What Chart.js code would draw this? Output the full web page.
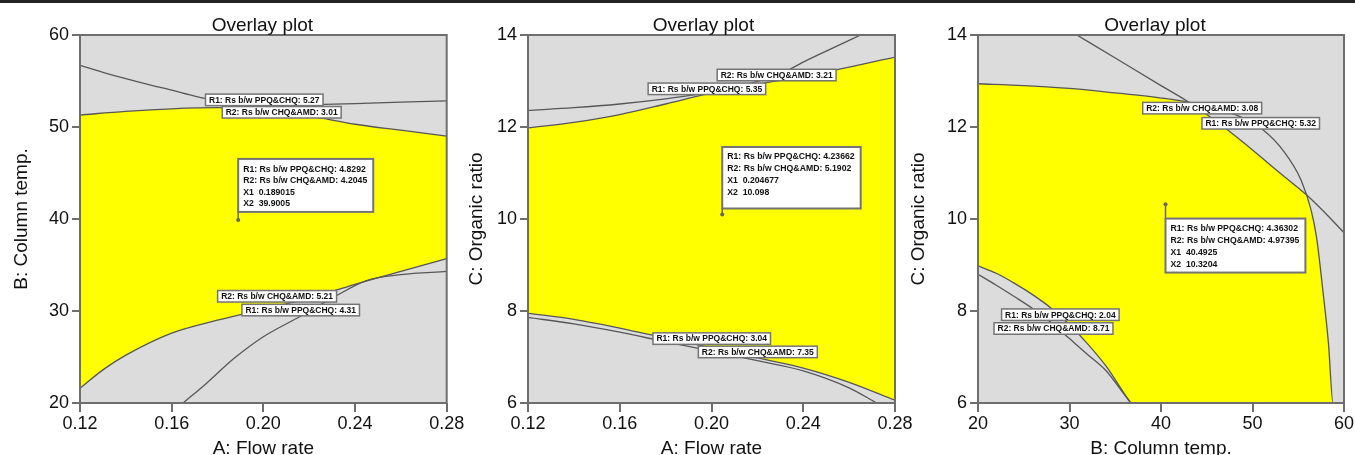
<!DOCTYPE html>
<html>
<head>
<meta charset="utf-8">
<title>Overlay plots</title>
<script src="https://cdn.jsdelivr.net/npm/chart.js@4.4.1/dist/chart.umd.min.js"></script>
<style>
  html, body { margin: 0; padding: 0; background: #fff; overflow: hidden; }
  #bar { position: absolute; left: 0; top: 0; width: 1355px; height: 3px; background: #232323; }
  .panel { position: absolute; top: 0; }
</style>
</head>
<body>
<div id="bar"></div>
<div class="panel" style="left:0px"><canvas id="plot1" width="470" height="470"></canvas></div>
<div class="panel" style="left:455px"><canvas id="plot2" width="462" height="470"></canvas></div>
<div class="panel" style="left:897px"><canvas id="plot3" width="458" height="470"></canvas></div>
<script>
// ---- values ----

var plotTitle = 'Overlay plot';
var flowTicks = [0.12, 0.16, 0.20, 0.24, 0.28];
var tempTicks = [20, 30, 40, 50, 60];
var ratioTicks = [6, 8, 10, 12, 14];

// plot 1 : A: Flow rate / B: Column temp.
var p1_R1_527 = [[0.12,56.7],[0.13,55.95],[0.14,55.25],[0.15,54.6],[0.16,54.0],[0.17,53.35],[0.18,52.85],[0.19,52.55],[0.20,52.45],[0.22,52.45],[0.24,52.55],[0.26,52.7],[0.28,52.85]];
var p1_R2_301 = [[0.12,51.3],[0.14,51.7],[0.16,51.98],[0.18,52.1],[0.20,51.85],[0.22,51.2],[0.24,50.3],[0.26,49.65],[0.28,49.0]];
var p1_R2_521 = [[0.12,21.6],[0.13,23.6],[0.14,25.2],[0.16,27.6],[0.18,29.0],[0.20,30.2],[0.22,31.4],[0.24,32.9],[0.26,34.3],[0.28,35.7]];
var p1_R1_431 = [[0.165,20],[0.175,22.1],[0.187,24.8],[0.20,27.2],[0.216,29.4],[0.23,31.4],[0.245,33.3],[0.26,33.95],[0.28,34.3]];
var p1_labels = [
  ['R1: Rs b/w PPQ&CHQ: 5.27', 0.2004, 52.95],
  ['R2: Rs b/w CHQ&AMD: 3.01', 0.208, 51.6],
  ['R2: Rs b/w CHQ&AMD: 5.21', 0.206, 31.6],
  ['R1: Rs b/w PPQ&CHQ: 4.31', 0.2163, 30.1]
];
var p1_flag = { x: 0.189015, y: 39.9005,
  lines: ['R1: Rs b/w PPQ&CHQ: 4.8292', 'R2: Rs b/w CHQ&AMD: 4.2045', 'X1  0.189015', 'X2  39.9005'] };

// plot 2 : A: Flow rate / C: Organic ratio
var p2_R2_321 = [[0.12,12.36],[0.14,12.42],[0.16,12.5],[0.18,12.61],[0.19,12.68],[0.20,12.76],[0.21,12.86],[0.22,12.99],[0.23,13.15],[0.24,13.41],[0.25,13.65],[0.265,14.0]];
var p2_R1_535 = [[0.12,11.98],[0.14,12.1],[0.16,12.27],[0.18,12.5],[0.20,12.74],[0.22,12.93],[0.24,13.1],[0.26,13.3],[0.28,13.52]];
var p2_R1_304 = [[0.12,7.95],[0.14,7.82],[0.16,7.63],[0.18,7.41],[0.20,7.2],[0.22,6.98],[0.24,6.76],[0.26,6.45],[0.28,6.06]];
var p2_R2_735 = [[0.12,7.86],[0.14,7.72],[0.16,7.54],[0.18,7.33],[0.20,7.13],[0.22,6.92],[0.24,6.7],[0.26,6.33],[0.272,6.0]];
var p2_labels = [
  ['R2: Rs b/w CHQ&AMD: 3.21', 0.2284, 13.13],
  ['R1: Rs b/w PPQ&CHQ: 5.35', 0.1980, 12.83],
  ['R1: Rs b/w PPQ&CHQ: 3.04', 0.2001, 7.40],
  ['R2: Rs b/w CHQ&AMD: 7.35', 0.2202, 7.11]
];
var p2_flag = { x: 0.204677, y: 10.098,
  lines: ['R1: Rs b/w PPQ&CHQ: 4.23662', 'R2: Rs b/w CHQ&AMD: 5.1902', 'X1  0.204677', 'X2  10.098'] };

// plot 3 : B: Column temp. / C: Organic ratio
var p3_R2_308 = [[30.8,14],[35,13.5],[40,12.9],[42.8,12.57],[45,12.27],[47.5,11.9],[50,11.5],[53,11.0],[56.1,10.49],[58,10.12],[60,9.7]];
var p3_R1_532 = [[20,12.94],[25,12.9],[30,12.84],[35,12.74],[40,12.63],[44,12.5],[48,12.28],[51,11.96],[53.5,11.45],[55.3,10.85],[56.4,10.2],[57.0,9.6],[57.7,8.43],[58.3,7.3],[58.8,6.0],[60,6.0]];
var p3_R1_204 = [[20,8.98],[22,8.82],[24,8.6],[26,8.35],[28,8.06],[30,7.7],[32,7.28],[34,6.8],[36,6.2],[36.7,6.0]];
var p3_R2_871 = [[20,8.8],[22,8.56],[24,8.31],[26,8.05],[28,7.75],[30,7.4],[32,7.05],[34,6.7],[36,6.18],[36.7,6.0]];
var p3_labels = [
  ['R2: Rs b/w CHQ&AMD: 3.08', 44.5, 12.41],
  ['R1: Rs b/w PPQ&CHQ: 5.32', 50.9, 12.08],
  ['R1: Rs b/w PPQ&CHQ: 2.04', 29.0, 7.92],
  ['R2: Rs b/w CHQ&AMD: 8.71', 28.25, 7.62]
];
var p3_flag = { x: 40.4925, y: 10.3204,
  lines: ['R1: Rs b/w PPQ&CHQ: 4.36302', 'R2: Rs b/w CHQ&AMD: 4.97395', 'X1  40.4925', 'X2  10.3204'] };

// ---- styling ----
var FONT = "'Liberation Sans', Arial, Helvetica, sans-serif";
var LINE = '#575757', GREY = '#dcdcdc', YELLOW = '#ffff00', FRAME = '#6e6e6e', INK = '#111111';
Chart.defaults.font.family = FONT;
Chart.defaults.color = INK;

function fmt2(v) { return Number(v).toFixed(2); }
function fmt0(v) { return String(v); }

function axis(ticks, title, fmt, horizontal, leftW) {
  return {
    type: 'linear',
    position: horizontal ? 'bottom' : 'left',
    min: ticks[0],
    max: ticks[ticks.length - 1],
    afterBuildTicks: function (s) { s.ticks = ticks.map(function (v) { return { value: v }; }); },
    afterFit: function (s) {
      // keep the plot frame where the reference has it
      if (horizontal) s.height = 67; else s.width = leftW;
      s.paddingLeft = 0; s.paddingRight = 0; s.paddingTop = 0; s.paddingBottom = 0;
    },
    grid: { drawOnChartArea: false, tickLength: horizontal ? 9 : 8, color: FRAME, lineWidth: 2 },
    border: { display: false },
    ticks: { font: { size: 18 }, color: INK, padding: horizontal ? 1 : 3, maxRotation: 0, autoSkip: false, callback: fmt },
    title: { display: true, text: title, font: { size: 19 }, color: INK,
             padding: horizontal ? { top: 0, bottom: 10 } : { top: 10, bottom: 0 } }
  };
}

function overlay(o) {
  return {
    id: 'overlay',
    beforeDraw: function (chart) {
      var a = chart.chartArea, ctx = chart.ctx;
      ctx.save();
      ctx.fillStyle = YELLOW;
      ctx.fillRect(a.left, a.top, a.right - a.left, a.bottom - a.top);
      ctx.restore();
    },
    afterDraw: function (chart) {
      var a = chart.chartArea, ctx = chart.ctx;
      var xs = chart.scales.x, ys = chart.scales.y;
      ctx.save();
      ctx.strokeStyle = FRAME;
      ctx.lineWidth = 2;
      ctx.strokeRect(a.left, a.top, a.right - a.left, a.bottom - a.top);

      ctx.fillStyle = INK;
      ctx.font = '19px ' + FONT;
      ctx.textAlign = 'center';
      ctx.textBaseline = 'alphabetic';
      ctx.fillText(plotTitle, (a.left + a.right) / 2 + o.titleShift, 31);

      // contour labels
      ctx.font = 'bold 8.5px ' + FONT;
      o.labels.forEach(function (l) {
        var w = ctx.measureText(l[0]).width + 7, h = 11.5;
        var cx = xs.getPixelForValue(l[1]), cy = ys.getPixelForValue(l[2]);
        ctx.fillStyle = '#fff';
        ctx.fillRect(cx - w / 2, cy - h / 2, w, h);
        ctx.strokeStyle = '#747474';
        ctx.lineWidth = 1.5;
        ctx.strokeRect(cx - w / 2, cy - h / 2, w, h);
        ctx.fillStyle = INK;
        ctx.textAlign = 'center';
        ctx.textBaseline = 'middle';
        ctx.fillText(l[0], cx, cy + 0.5);
      });

      // flag point with its box
      var f = o.flag, st = o.flagStyle;
      var px = xs.getPixelForValue(f.x), py = ys.getPixelForValue(f.y);
      ctx.font = 'bold 8.7px ' + FONT;
      var maxW = 0;
      f.lines.forEach(function (t) { maxW = Math.max(maxW, ctx.measureText(t).width); });
      var bw = maxW + 11, top = py + st.dy, bh = st.h;
      ctx.strokeStyle = '#666';
      ctx.lineWidth = 1.5;
      ctx.beginPath();
      ctx.moveTo(px, py);
      ctx.lineTo(px, st.dy < 0 ? top + bh : top);
      ctx.stroke();
      ctx.fillStyle = '#fff';
      ctx.fillRect(px, top, bw, bh);
      ctx.strokeStyle = '#747474';
      ctx.lineWidth = 2;
      ctx.strokeRect(px, top, bw, bh);
      ctx.fillStyle = INK;
      ctx.textAlign = 'left';
      ctx.textBaseline = 'middle';
      f.lines.forEach(function (t, i) { ctx.fillText(t, px + 5, top + st.pad + i * st.step); });
      ctx.fillStyle = '#666';
      ctx.beginPath();
      ctx.arc(px, py, 2, 0, Math.PI * 2);
      ctx.fill();
      ctx.restore();
    }
  };
}

function overlayChart(id, o) {
  var datasets = o.curves.map(function (c) {
    return {
      data: c[0].map(function (p) { return { x: p[0], y: p[1] }; }),
      fill: c[1],
      backgroundColor: GREY,
      borderColor: LINE,
      borderWidth: 1.3,
      pointRadius: 0,
      cubicInterpolationMode: 'monotone'
    };
  });
  return new Chart(document.getElementById(id), {
    type: 'line',
    data: { datasets: datasets },
    options: {
      responsive: false,
      animation: false,
      events: [],
      layout: { padding: { top: 35, right: o.padRight, left: 0, bottom: 0 } },
      plugins: {
        legend: { display: false },
        tooltip: { enabled: false },
        filler: { drawTime: 'beforeDatasetsDraw' }
      },
      scales: {
        x: axis(o.xTicks, o.xTitle, o.xFmt, true),
        y: axis(o.yTicks, o.yTitle, fmt0, false, o.left)
      }
    },
    plugins: [overlay(o)]
  });
}

overlayChart('plot1', {
  xTicks: flowTicks, yTicks: tempTicks, xFmt: fmt2,
  xTitle: 'A: Flow rate', yTitle: 'B: Column temp.',
  left: 80, padRight: 23.3, titleShift: -1,
  curves: [[p1_R1_527, 'end'], [p1_R2_301, 'end'], [p1_R2_521, 'start'], [p1_R1_431, 'start']],
  labels: p1_labels, flag: p1_flag,
  flagStyle: { dy: -61, h: 53, pad: 11, step: 11.1 }
});

overlayChart('plot2', {
  xTicks: flowTicks, yTicks: ratioTicks, xFmt: fmt2,
  xTitle: 'A: Flow rate', yTitle: 'C: Organic ratio',
  left: 73, padRight: 22, titleShift: -8,
  curves: [[p2_R2_321, 'end'], [p2_R1_535, 'end'], [p2_R1_304, 'start'], [p2_R2_735, 'start']],
  labels: p2_labels, flag: p2_flag,
  flagStyle: { dy: -67.5, h: 61.5, pad: 9.5, step: 11.9 }
});

overlayChart('plot3', {
  xTicks: tempTicks, yTicks: ratioTicks, xFmt: fmt0,
  xTitle: 'B: Column temp.', yTitle: 'C: Organic ratio',
  left: 81, padRight: 11, titleShift: -6,
  curves: [[p3_R2_308, 'end'], [p3_R1_532, 'end'], [p3_R1_204, 'start'], [p3_R2_871, 'start']],
  labels: p3_labels, flag: p3_flag,
  flagStyle: { dy: 14.3, h: 54, pad: 9.7, step: 12 }
});
</script>
</body>
</html>
